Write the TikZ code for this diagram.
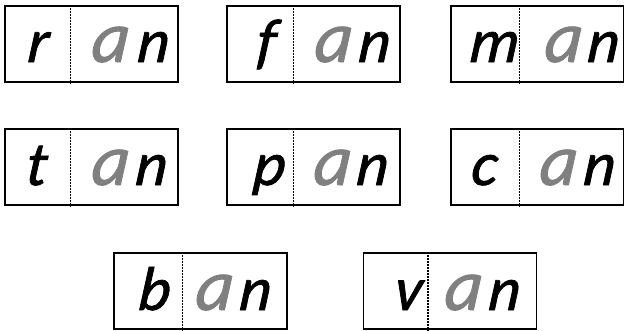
\documentclass[tikz,border=0pt]{standalone}
\usepackage{fontspec}
\newfontfamily\cardfont[ItalicFeatures={FakeSlant=0.1,FakeBold=1.2}]{Carlito}
\begin{document}
\begin{tikzpicture}[
      x=1pt, y=-1pt,
      card/.style={draw=black, line width=1.3pt, minimum width=173pt,
                   minimum height=76pt, inner sep=0pt},
      divider/.style={draw=black, line width=1.4pt, dash pattern=on 1.4pt off 1.6pt},
      onset/.style={anchor=base, inner sep=0pt,
                    font=\cardfont\itshape\fontsize{62}{62}\selectfont},
      rime/.style={anchor=base, inner sep=0pt, text=black!50,
                   font=\cardfont\itshape\fontsize{73}{73}\selectfont},
      coda/.style={anchor=base, inner sep=0pt,
                   font=\cardfont\itshape\fontsize{62}{62}\selectfont}
    ]
    \useasboundingbox (0,0) rectangle (624,330);

    % First row.
    \node[card] (rcard) at (91.5,44) {};
    \draw[divider] (rcard.north west) ++(66,0) -- ++(0,79);
    \node[onset] (r) at (37,62) {r};
    \node[rime] (ra) at (109,62) {a};
    \node[coda] (rn) at (152,62) {n};

    \node[card] (fcard) at (313.5,44) {};
    \draw[divider] (fcard.north west) ++(67,0) -- ++(0,79);
    \node[onset] (f) at (265,62) {f};
    \node[rime] (fa) at (332,62) {a};
    \node[coda] (fn) at (373,62) {n};

    \node[card] (mcard) at (537.5,44) {};
    \draw[divider] (mcard.north west) ++(69,0) -- ++(0,79);
    \node[onset] (m) at (493,62) {m};
    \node[rime] (ma) at (562,62) {a};
    \node[coda] (mn) at (602,62) {n};

    % Second row.
    \node[card] (tcard) at (91.5,167) {};
    \draw[divider] (tcard.north west) ++(66,0) -- ++(0,79);
    \node[onset] (t) at (35,185) {t};
    \node[rime] (ta) at (109,185) {a};
    \node[coda] (tn) at (150,185) {n};

    \node[card] (pcard) at (313.5,167) {};
    \draw[divider] (pcard.north west) ++(67,0) -- ++(0,79);
    \node[onset] (p) at (268,185) {p};
    \node[rime] (pa) at (331,185) {a};
    \node[coda] (pn) at (371,185) {n};

    \node[card] (ccard) at (537.5,167) {};
    \draw[divider] (ccard.north west) ++(69,0) -- ++(0,79);
    \node[onset] (c) at (483,185) {c};
    \node[rime] (ca) at (557,185) {a};
    \node[coda] (cn) at (598,185) {n};

    % Third row.
    \node[card] (bcard) at (200.5,291) {};
    \draw[divider] (bcard.north west) ++(69,0) -- ++(0,79);
    \node[onset] (b) at (153,310) {b};
    \node[rime] (ba) at (213,310) {a};
    \node[coda] (bn) at (254,310) {n};

    \node[card] (vcard) at (450,291) {};
    \draw[divider] (vcard.north west) ++(65,0) -- ++(0,79);
    \node[onset] (v) at (407,310) {v};
    \node[rime] (va) at (462,310) {a};
    \node[coda] (vn) at (503,310) {n};
  \end{tikzpicture}
\end{document}
